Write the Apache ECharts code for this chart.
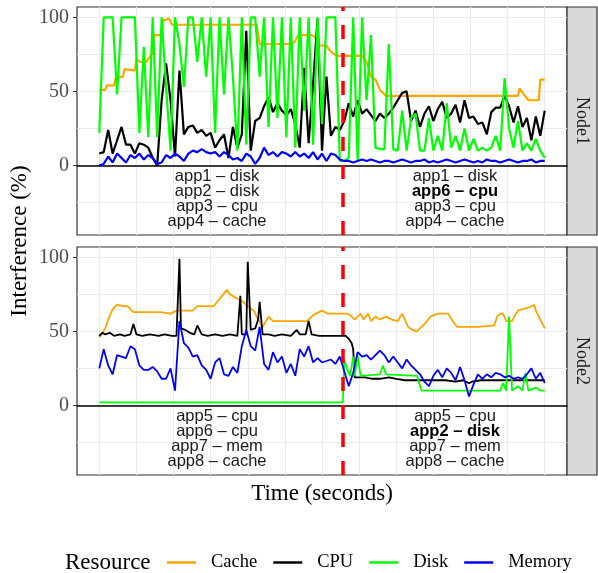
<!DOCTYPE html>
<html>
<head>
<meta charset="utf-8">
<script src="https://cdn.jsdelivr.net/npm/echarts@6/dist/echarts.min.js"></script>
<style>
  html, body { margin: 0; padding: 0; background: #fff; }
  #chart { width: 598px; height: 573px; }
</style>
</head>
<body>
<div id="chart"></div>
<script>
// sampled every 3 seconds, 0..300
const step = 3
const switchAt = 164

const resources = ['Cache', 'CPU', 'Disk', 'Memory']
const colors = { Cache: '#ffa500', CPU: '#000000', Disk: '#00ff00', Memory: '#0000ff' }
const nodes = ['Node1', 'Node2']

// Node1
const n1CacheT = [0, 4, 5, 10, 11, 16, 17, 24, 25, 27, 32, 33, 36, 37, 42, 43, 47, 49, 106, 108, 130, 132, 134, 143, 145, 148, 153, 155, 157, 160, 177, 180, 183, 186, 189, 193, 282, 283, 286, 289, 296, 297, 300]
const n1CacheV = [51, 51, 54, 54, 59, 60, 65, 64, 72, 70, 70, 72, 76, 88, 88, 98, 99, 95, 95, 82, 82, 84, 88, 88, 87, 81, 81, 78, 76, 74, 74, 70, 60, 58, 51, 47, 47, 52, 48, 44, 44, 58, 58]
const n1Cpu = [8, 9, 24, 8, 17, 26, 14, 14, 8, 15, 14, 12, 5, 0, 44, 69, 44, 6, 64, 21,
  26, 27, 22, 24, 20, 22, 12, 17, 21, 5, 26, 12, 21, 91, 10, 30, 32, 40, 46, 36,
  42, 37, 34, 38, 28, 12, 66, 15, 55, 99, 10, 60, 20, 26, 24, 30, 42, 33, 44, 35,
  38, 34, 30, 35, 32, 35, 39, 44, 49, 50, 30, 37, 26, 35, 40, 30, 38, 43, 32, 35,
  41, 29, 44, 32, 33, 28, 29, 21, 36, 39, 39, 47, 40, 29, 40, 26, 32, 17, 33, 20, 37]
const n1Disk = [22, 100, 100, 100, 48, 100, 100, 100, 100, 22, 80, 19, 100, 19, 100, 53, 10, 100, 82, 53,
  100, 100, 70, 100, 60, 100, 22, 100, 48, 100, 60, 10, 100, 14, 100, 100, 60, 100, 26, 100,
  32, 100, 19, 100, 12, 100, 37, 100, 14, 100, 28, 100, 100, 100, 3, 3, 5, 100, 3, 100,
  44, 88, 12, 11, 11, 82, 11, 10, 37, 10, 32, 35, 10, 10, 32, 10, 20, 10, 42, 12,
  20, 10, 25, 10, 18, 10, 12, 10, 12, 20, 10, 59, 25, 12, 30, 10, 15, 10, 18, 10, 5]
const n1Mem = [0, 1, 6, 2, 8, 5, 2, 7, 5, 8, 4, 7, 5, 1, 2, 7, 5, 8, 6, 3,
  8, 10, 9, 11, 9, 8, 9, 6, 9, 7, 4, 5, 3, 8, 6, 1, 5, 12, 7, 9,
  6, 9, 8, 6, 9, 6, 8, 5, 9, 4, 8, 3, 8, 7, 4, 3, 3, 2, 3, 4,
  3, 4, 3, 2, 3, 3, 2, 3, 4, 3, 2, 3, 3, 4, 2, 3, 2, 3, 4, 3,
  2, 3, 4, 3, 2, 3, 2, 4, 3, 3, 2, 3, 4, 3, 2, 3, 3, 4, 2, 3, 3]

// Node2
const n2CacheT = [0, 2, 4, 6, 9, 12, 16, 19, 23, 27, 41, 48, 52, 63, 66, 77, 81, 86, 88, 93, 97, 100, 104, 107, 110, 114, 117, 140, 144, 150, 154, 167, 170, 172, 176, 178, 181, 183, 186, 189, 193, 197, 201, 204, 208, 211, 214, 216, 220, 223, 228, 235, 238, 241, 250, 255, 266, 268, 270, 272, 274, 278, 280, 282, 285, 289, 291, 293, 294, 295, 297, 300]
const n2CacheV = [46, 49, 52, 58, 65, 68, 67, 67, 63, 63, 63, 62, 64, 64, 67, 67, 72, 78, 75, 72, 70, 67, 64, 58, 53, 60, 57, 57, 61, 64, 62, 62, 60, 58, 62, 58, 62, 57, 60, 58, 60, 58, 57, 62, 53, 51, 50, 52, 56, 60, 62, 62, 57, 53, 53, 53, 54, 60, 62, 62, 57, 57, 61, 64, 65, 66, 67, 68, 64, 62, 58, 52]
const n2CpuT = [0, 2, 4, 7, 10, 14, 17, 21, 23, 25, 29, 34, 40, 44, 49, 52, 54, 55, 58, 61, 64, 66, 69, 73, 78, 83, 88, 93, 94, 95, 96, 99, 100, 102, 105, 107, 108, 110, 114, 118, 123, 129, 133, 135, 139, 141, 143, 148, 152, 158, 162, 166, 168, 170, 171, 172, 176, 179, 184, 189, 195, 200, 206, 213, 220, 226, 233, 240, 245, 249, 251, 257, 264, 270, 277, 284, 291, 295, 300]
const n2CpuV = [47, 49, 48, 49, 47, 48, 47, 48, 55, 48, 47, 48, 47, 48, 47, 47, 99, 52, 51, 49, 48, 54, 48, 47, 48, 47, 48, 47, 48, 74, 48, 48, 97, 51, 52, 58, 70, 48, 48, 47, 48, 47, 51, 48, 48, 57, 48, 47, 47, 47, 47, 47, 45, 42, 38, 19, 19, 19, 18, 18, 19, 18, 17, 17, 17, 17, 17, 16, 17, 15, 16, 17, 17, 17, 17, 17, 17, 17, 17]
const n2DiskT = [0, 164, 165, 167, 169, 171, 172, 174, 176, 189, 191, 193, 214, 217, 270, 272, 274, 276, 278, 282, 285, 287, 289, 294, 297, 300]
const n2DiskV = [2, 2, 31, 24, 20, 33, 20, 34, 20, 21, 27, 21, 20, 10, 10, 15, 10, 60, 10, 13, 10, 22, 10, 12, 10, 10]
const n2Mem = [25, 38, 27, 21, 34, 33, 32, 40, 38, 27, 24, 24, 26, 23, 18, 18, 25, 10, 57, 42,
  39, 33, 34, 27, 24, 18, 29, 32, 21, 20, 26, 22, 40, 51, 40, 37, 53, 28, 24, 36,
  29, 33, 22, 28, 20, 38, 33, 40, 29, 32, 29, 30, 31, 28, 33, 23, 13, 22, 36, 33,
  34, 31, 34, 37, 34, 29, 33, 29, 25, 31, 27, 24, 21, 16, 13, 20, 24, 19, 25, 22,
  17, 26, 17, 6, 14, 21, 18, 21, 19, 22, 21, 19, 20, 18, 19, 18, 21, 25, 18, 22, 15]

const xBreaks = [0, 25, 50, 75, 100, 125, 150, 175, 200, 225, 250, 275, 300]
const yGrid = [-25, 0, 25, 50, 75, 100]
const yLabels = [0, 50, 100]

// text under the zero line, before and after the switch
const notes = [
  [['app1 – disk', 'app2 – disk', 'app3 – cpu', 'app4 – cache'], ['app1 – disk', 'app6 – cpu', 'app3 – cpu', 'app4 – cache']],
  [['app5 – cpu', 'app6 – cpu', 'app7 – mem', 'app8 – cache'], ['app5 – cpu', 'app2 – disk', 'app7 – mem', 'app8 – cache']]
]
const boldNote = 1

const serif = "'Liberation Serif', 'DejaVu Serif', serif"
const sans = "'Liberation Sans', Arial, sans-serif"

const pairs = (ts, vs) => vs.map((v, i) => [ts[i], v])
const sampled = vs => vs.map((v, i) => [i * step, v])

const panelData = [
  { Cache: pairs(n1CacheT, n1CacheV), CPU: sampled(n1Cpu), Disk: sampled(n1Disk), Memory: sampled(n1Mem) },
  { Cache: pairs(n2CacheT, n2CacheV), CPU: pairs(n2CpuT, n2CpuV), Disk: pairs(n2DiskT, n2DiskV), Memory: sampled(n2Mem) }
]

const panelTop = [7, 247]
const panelH = 228
const left = 77
const width = 490

const chart = echarts.init(document.getElementById('chart'))

const grid = panelTop.map(top => ({
  left: left, top: top, width: width, height: panelH,
  show: true, borderColor: '#333', borderWidth: 1.2, backgroundColor: '#fff'
}))

const xAxis = panelTop.map((t, i) => ({
  type: 'value', gridIndex: i, min: -15, max: 315,
  axisLabel: { show: false },
  axisTick: { show: false, customValues: xBreaks },
  axisLine: { show: true, onZero: true, lineStyle: { color: '#000', width: 1.6 } },
  splitLine: { show: true, lineStyle: { color: '#ebebeb', width: 1.1 } }
}))

const yAxis = []
panelTop.forEach((t, i) => {
  yAxis.push({
    type: 'value', gridIndex: i, min: -47, max: 107, position: 'left',
    axisLabel: { show: false },
    axisTick: { show: false, customValues: yGrid },
    axisLine: { show: false },
    splitLine: { show: true, lineStyle: { color: '#ebebeb', width: 1.1 } }
  })
  yAxis.push({
    type: 'value', gridIndex: i, min: -47, max: 107, position: 'left',
    axisLabel: { customValues: yLabels, fontFamily: serif, fontSize: 20, color: '#4d4d4d', margin: 8 },
    axisTick: { show: true, customValues: yLabels, length: 4, lineStyle: { color: '#333' } },
    axisLine: { show: false },
    splitLine: { show: false }
  })
})

const series = []
nodes.forEach((node, p) => {
  resources.forEach(r => {
    const s = {
      name: r, type: 'line', xAxisIndex: p, yAxisIndex: p * 2,
      data: panelData[p][r], symbol: 'none', silent: true,
      lineStyle: { color: colors[r], width: p === 0 ? 2.2 : 1.8 },
      itemStyle: { color: colors[r] }
    }
    if (r === 'Memory') {
      s.markLine = {
        silent: true, symbol: 'none', label: { show: false },
        lineStyle: { color: '#ff0000', type: [14, 14], width: 3.5 },
        data: [{ xAxis: switchAt }]
      }
    }
    series.push(s)
  })
})

const graphic = []
nodes.forEach((node, p) => {
  const top = panelTop[p]
  graphic.push({
    type: 'rect', shape: { x: left + width, y: top, width: 30, height: panelH },
    style: { fill: '#d9d9d9', stroke: '#333', lineWidth: 1.2 }
  })
  graphic.push({
    type: 'text', x: left + width + 15, y: top + panelH / 2, rotation: -Math.PI / 2,
    style: { text: node, fontFamily: serif, fontSize: 18, fill: '#1a1a1a', align: 'center', verticalAlign: 'middle' }
  })
  notes[p].forEach((lines, side) => {
    lines.forEach((txt, j) => {
      const bold = side === 1 && j === boldNote
      graphic.push({
        type: 'text', z: 100, x: side === 0 ? 217 : 455, y: top + 169 + j * 15,
        style: {
          text: txt, fontFamily: sans, fontSize: 16.5, fontWeight: bold ? 'bold' : 'normal',
          fill: bold ? '#000' : '#1a1a1a', align: 'center', verticalAlign: 'middle'
        }
      })
    })
  })
})
graphic.push({
  type: 'text', x: 20, y: 241, rotation: Math.PI / 2,
  style: { text: 'Interference (%)', fontFamily: serif, fontSize: 23, fill: '#000', align: 'center', verticalAlign: 'middle' }
})
graphic.push({
  type: 'text', x: left + width / 2, y: 494,
  style: { text: 'Time (seconds)', fontFamily: serif, fontSize: 23, fill: '#000', align: 'center', verticalAlign: 'middle' }
})
graphic.push({
  type: 'text', x: 65, y: 563,
  style: { text: 'Resource', fontFamily: serif, fontSize: 23, fill: '#000', align: 'left', verticalAlign: 'middle' }
})

chart.setOption({
  animation: false,
  backgroundColor: '#fff',
  grid: grid,
  xAxis: xAxis,
  yAxis: yAxis,
  legend: {
    data: resources, left: 167, top: 553, padding: 0, icon: 'rect',
    itemWidth: 29, itemHeight: 2.5, itemGap: 16,
    selectedMode: false,
    textStyle: { fontFamily: serif, fontSize: 18.5, color: '#000', padding: [0, 0, 0, 10] }
  },
  graphic: graphic,
  series: series
})
</script>
</body>
</html>
